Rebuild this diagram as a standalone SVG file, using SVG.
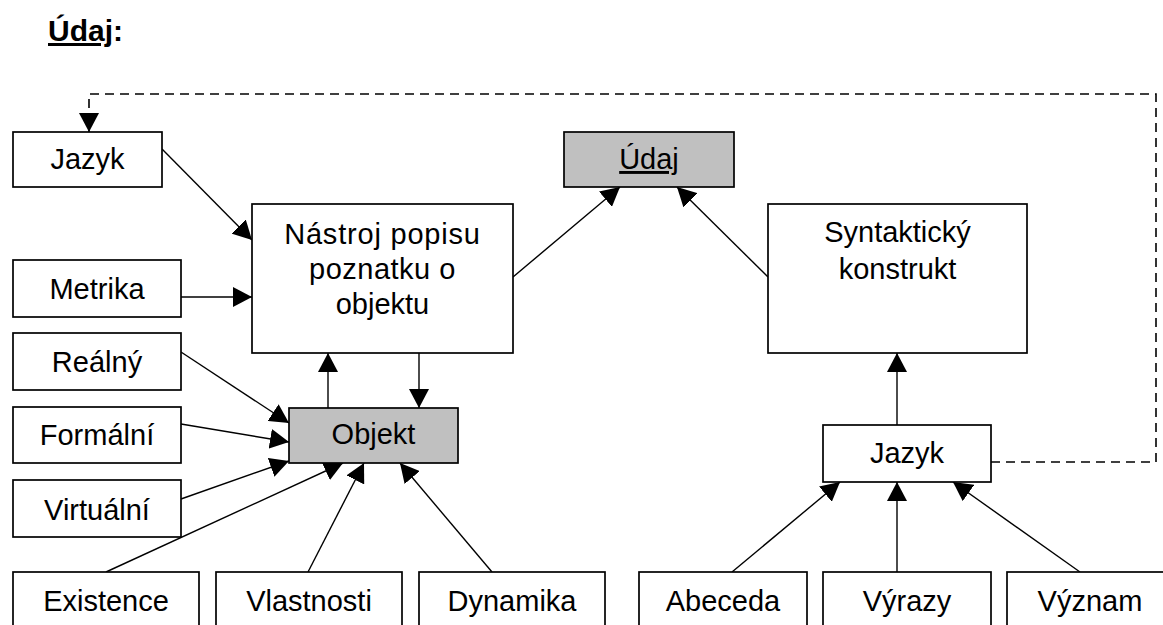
<svg xmlns="http://www.w3.org/2000/svg" width="1163" height="625" viewBox="0 0 1163 625">
  <style>
    .box { fill: #ffffff; stroke: #000000; stroke-width: 1.7; }
    .hl { fill: #c0c0c0; stroke: #000000; stroke-width: 1.7; }
    .lbl { font-family: "Liberation Sans", Arial, sans-serif; font-size: 29px; fill: #000000; text-anchor: middle; }
    .title { font-family: "Liberation Sans", Arial, sans-serif; font-size: 30px; font-weight: bold; fill: #000000; }
    .edge { fill: none; stroke: #000000; stroke-width: 1.4; marker-end: url(#arrow); }
    .dash { fill: none; stroke: #000000; stroke-width: 1.6; stroke-dasharray: 9 6; marker-end: url(#arrow); }
  </style>
  <defs>
    <marker id="arrow" viewBox="0 0 19 20" refX="19" refY="10" markerWidth="19" markerHeight="20" markerUnits="userSpaceOnUse" orient="auto">
      <path d="M0,0 L19,10 L0,20 Z" fill="#000000"/>
    </marker>
  </defs>
  <rect width="1163" height="625" fill="#ffffff"/>

  <text class="title" x="48" y="41"><tspan text-decoration="underline">Údaj</tspan>:</text>

  <!-- connectors -->
  <g id="connectors">
    <path class="dash" d="M991,462 H1156 V94 H89 V132"/>
    <path class="edge" d="M162,149 L252,240"/>
    <path class="edge" d="M181,297 L252,297"/>
    <path class="edge" d="M513,277 L620,187"/>
    <path class="edge" d="M768,277 L677,187"/>
    <path class="edge" d="M328,408 L328,353"/>
    <path class="edge" d="M419,353 L419,408"/>
    <path class="edge" d="M181,352 L289,423"/>
    <path class="edge" d="M181,424 L289,442"/>
    <path class="edge" d="M181,499 L289,461"/>
    <path class="edge" d="M106,572 L343,463"/>
    <path class="edge" d="M308,572 L364,463"/>
    <path class="edge" d="M492,572 L400,463"/>
    <path class="edge" d="M897,425 L897,353"/>
    <path class="edge" d="M732,572 L840,482"/>
    <path class="edge" d="M897,572 L897,482"/>
    <path class="edge" d="M1080,572 L953,482"/>
  </g>

  <g id="jazyk-top"><rect class="box" x="13" y="132" width="149" height="55"/><text class="lbl" x="87.5" y="169">Jazyk</text></g>
  <g id="metrika"><rect class="box" x="13" y="260" width="168" height="57"/><text class="lbl" x="97" y="299">Metrika</text></g>
  <g id="realny"><rect class="box" x="13" y="333" width="168" height="57"/><text class="lbl" x="97" y="372">Reálný</text></g>
  <g id="formalni"><rect class="box" x="13" y="407" width="168" height="56"/><text class="lbl" x="97" y="445">Formální</text></g>
  <g id="virtualni"><rect class="box" x="13" y="480" width="168" height="57"/><text class="lbl" x="97" y="520">Virtuální</text></g>

  <g id="nastroj">
    <rect class="box" x="252" y="204" width="261" height="149"/>
    <text class="lbl" x="382.5" y="244" letter-spacing="0.8">Nástroj popisu</text>
    <text class="lbl" x="382.5" y="279" letter-spacing="0.5">poznatku o</text>
    <text class="lbl" x="382.5" y="314">objektu</text>
  </g>
  <g id="objekt"><rect class="hl" x="289" y="408" width="169" height="55"/><text class="lbl" x="373.5" y="444">Objekt</text></g>
  <g id="udaj"><rect class="hl" x="564" y="132" width="170" height="55"/><text class="lbl" x="649" y="169" text-decoration="underline">Údaj</text></g>
  <g id="syntakticky">
    <rect class="box" x="768" y="204" width="259" height="149"/>
    <text class="lbl" x="897.5" y="242">Syntaktický</text>
    <text class="lbl" x="897.5" y="279">konstrukt</text>
  </g>
  <g id="jazyk-right"><rect class="box" x="823" y="425" width="168" height="57"/><text class="lbl" x="907" y="463">Jazyk</text></g>

  <g id="existence"><rect class="box" x="13" y="572" width="186" height="60"/><text class="lbl" x="106" y="611">Existence</text></g>
  <g id="vlastnosti"><rect class="box" x="216" y="572" width="186" height="60"/><text class="lbl" x="309" y="611">Vlastnosti</text></g>
  <g id="dynamika"><rect class="box" x="419" y="572" width="186" height="60"/><text class="lbl" x="512" y="611">Dynamika</text></g>
  <g id="abeceda"><rect class="box" x="639" y="572" width="168" height="60"/><text class="lbl" x="723" y="611">Abeceda</text></g>
  <g id="vyrazy"><rect class="box" x="823" y="572" width="168" height="60"/><text class="lbl" x="907" y="611">Výrazy</text></g>
  <g id="vyznam"><rect class="box" x="1007" y="572" width="166" height="60"/><text class="lbl" x="1090" y="611">Význam</text></g>
</svg>
